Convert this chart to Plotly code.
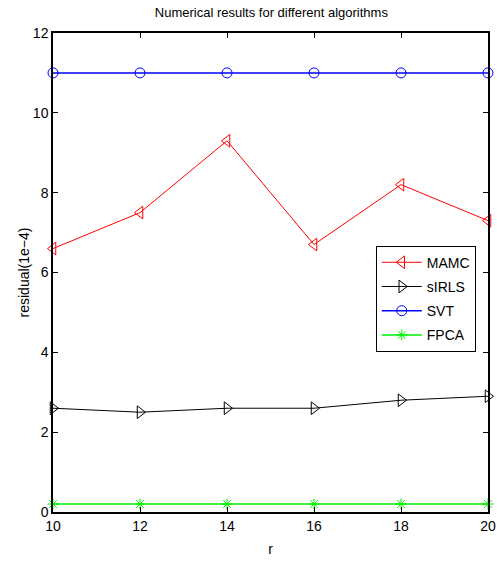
import plotly.graph_objects as go

r = [10, 12, 14, 16, 18, 20]
mamc = [6.6, 7.5, 9.3, 6.7, 8.2, 7.3]
sirls = [2.6, 2.5, 2.6, 2.6, 2.8, 2.9]
svt = [11, 11, 11, 11, 11, 11]
fpca = [0.2, 0.2, 0.2, 0.2, 0.2, 0.2]

FONT = "Liberation Sans, Arial, sans-serif"

fig = go.Figure()
series = [
    ("MAMC", mamc, "#ff0000", "triangle-left-open", 11, 1),
    ("sIRLS", sirls, "#000000", "triangle-right-open", 11, 1),
    ("SVT", svt, "#0000ff", "circle-open", 10, 1.5),
    ("FPCA", fpca, "#00ee00", "asterisk-open", 9, 1.5),
]
for i, (name, vals, color, sym, size, lw) in enumerate(series):
    fig.add_trace(go.Scatter(
        x=r, y=vals, name=name, mode="lines+markers",
        line=dict(color=color, width=lw),
        marker=dict(symbol=sym, size=size, color=color, line=dict(color=color, width=1)),
        cliponaxis=False, legendgroup=name,
    ))

axis_common = dict(
    showline=True, linecolor="black", linewidth=1.5, mirror="ticks",
    ticks="inside", ticklen=5, tickcolor="black", tickwidth=1,
    showgrid=False, zeroline=False, automargin=False,
    tickfont=dict(family=FONT, size=14, color="black"),
)

fig.update_layout(
    width=497, height=562,
    margin=dict(l=53, r=9, t=33, b=50, autoexpand=False),
    paper_bgcolor="white", plot_bgcolor="white",
    title=dict(text="Numerical results for different algorithms", x=0.546, xanchor="center",
               y=0.978, yanchor="middle",
               font=dict(family=FONT, size=13, color="black")),
    xaxis=dict(range=[10, 20], tickvals=r, title=dict(text="r", standoff=12,
               font=dict(family=FONT, size=14, color="black")), **axis_common),
    yaxis=dict(range=[0, 12], tickvals=[0, 2, 4, 6, 8, 10, 12],
               title=dict(text="residual(1e−4)", standoff=0,
                          font=dict(family=FONT, size=14, color="black")), **axis_common),
    showlegend=True,
    legend=dict(x=0.742, y=0.556, xanchor="left", yanchor="top",
                bgcolor="white", bordercolor="black", borderwidth=1,
                font=dict(family=FONT, size=14, color="black"),
                itemwidth=40, tracegroupgap=3, traceorder="grouped"),
)

fig.write_html("out.html")
